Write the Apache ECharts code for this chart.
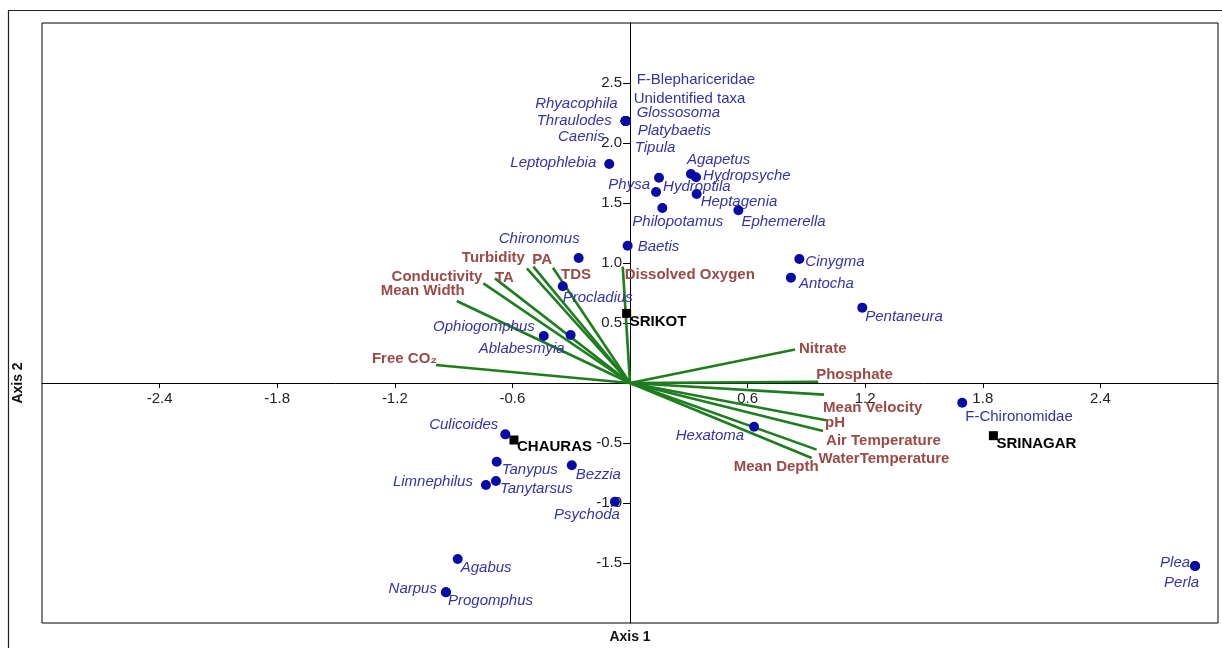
<!DOCTYPE html>
<html>
<head>
<meta charset="utf-8">
<script src="https://cdn.jsdelivr.net/npm/echarts@6/dist/echarts.min.js"></script>
<style>
html,body{margin:0;padding:0;background:#fff;}
#chart{width:1222px;height:648px;}
</style>
</head>
<body>
<div id="chart"></div>
<script>
// ---------- DATA ----------
const speciesNames = ['F-Blephariceridae','Unidentified taxa','Glossosoma','Platybaetis','Tipula','Rhyacophila','Thraulodes','Caenis',
  'Leptophlebia','Physa','Hydroptila','Agapetus','Hydropsyche','Heptagenia','Philopotamus','Ephemerella','Baetis','Cinygma','Antocha',
  'Pentaneura','Chironomus','Procladius','Ophiogomphus','Ablabesmyia','Culicoides','Tanypus','Bezzia','Limnephilus','Tanytarsus',
  'Psychoda','Hexatoma','F-Chironomidae','Agabus','Narpus','Progomphus','Plea','Perla'];
const speciesX = [-0.022,-0.022,-0.022,-0.022,-0.022,-0.022,-0.022,-0.022,
  -0.106,0.148,0.133,0.311,0.337,0.340,0.165,0.553,-0.012,0.864,0.821,
  1.185,-0.262,-0.343,-0.440,-0.303,-0.636,-0.680,-0.297,-0.735,-0.684,
  -0.077,0.633,1.695,-0.879,-0.939,-0.939,2.883,2.883];
const speciesY = [2.183,2.183,2.183,2.183,2.183,2.183,2.183,2.183,
  1.825,1.711,1.592,1.742,1.714,1.575,1.458,1.439,1.144,1.033,0.878,
  0.628,1.042,0.806,0.392,0.400,-0.428,-0.656,-0.686,-0.850,-0.817,
  -0.989,-0.364,-0.164,-1.467,-1.744,-1.744,-1.525,-1.525];

const siteNames = ['SRIKOT','CHAURAS','SRINAGAR'];
const siteX = [-0.017,-0.592,1.854];
const siteY = [0.580,-0.475,-0.439];

const envNames = ['Free CO\u2082','Mean Width','Conductivity','TA','Turbidity','PA','TDS','Dissolved Oxygen',
  'Nitrate','Phosphate','Mean Velocity','pH','Air Temperature','WaterTemperature','Mean Depth'];
const envX = [-0.990,-0.884,-0.748,-0.689,-0.526,-0.493,-0.393,-0.037,0.842,0.960,0.990,1.000,0.985,0.952,0.927];
const envY = [0.150,0.683,0.830,0.872,0.956,0.970,0.960,0.970,0.280,0.010,-0.097,-0.310,-0.400,-0.555,-0.625];

const xTickLabels = ['-2.4','-1.8','-1.2','-0.6','0.6','1.2','1.8','2.4'];
const yTickLabels = ['-1.5','-1.0','-0.5','0.5','1.0','1.5','2.0','2.5'];

// ---------- LABEL STYLE (align, dx, dy in px) ----------
const speciesLabelPlace = {
  'F-Blephariceridae':['left',11,-41],'Unidentified taxa':['left',8,-22],'Glossosoma':['left',11,-8],
  'Platybaetis':['left',12,10],'Tipula':['left',9,27],'Rhyacophila':['right',-8,-17],'Thraulodes':['right',-14,0],
  'Caenis':['right',-21,16],'Leptophlebia':['right',-13,-1],'Physa':['right',-9,7],'Hydroptila':['left',7,-5],
  'Agapetus':['left',-4,-14],'Hydropsyche':['left',7,-1],'Heptagenia':['left',4,8],'Philopotamus':['left',-30,14],
  'Ephemerella':['left',3,12],'Baetis':['left',10,1],'Cinygma':['left',6,3],'Antocha':['left',8,6],
  'Pentaneura':['left',3,9],'Chironomus':['right',1,-19],'Procladius':['left',0,12],'Ophiogomphus':['right',-9,-9],
  'Ablabesmyia':['right',-6,14],'Culicoides':['right',-7,-10],'Tanypus':['left',5,8],'Bezzia':['left',4,10],
  'Limnephilus':['right',-13,-3],'Tanytarsus':['left',4,8],'Psychoda':['right',5,13],'Hexatoma':['right',-10,9],
  'F-Chironomidae':['left',3,14],'Agabus':['left',3,9],'Narpus':['right',-9,-3],'Progomphus':['left',2,9],
  'Plea':['right',-5,-3],'Perla':['right',4,17]
};
const uprightSpecies = ['F-Blephariceridae','Unidentified taxa','F-Chironomidae'];
const siteLabelPlace = {'SRIKOT':['left',3,8],'CHAURAS':['left',3,7],'SRINAGAR':['left',3,8]};
const envLabelPlace = {
  'Free CO\u2082':['right',1,-6],'Mean Width':['right',8,-10],'Conductivity':['right',-1,-7],'TA':['left',0,-1],
  'Turbidity':['right',-2,-10],'PA':['left',-1,-7],'TDS':['left',8,7],'Dissolved Oxygen':['left',2,8],
  'Nitrate':['left',4,-1],'Phosphate':['left',-2,-7],'Mean Velocity':['left',-1,13],'pH':['left',-1,3],
  'Air Temperature':['left',3,10],'WaterTemperature':['left',2,9],'Mean Depth':['right',7,9]
};

const FONT = '"Liberation Sans", Arial, sans-serif';
const SPECIES_TEXT = '#3434a8';
const DOT = '#0a0aa6';
const ENV_TEXT = '#9a4b47';
const ENV_LINE = '#1e7d1e';

const speciesData = speciesNames.map((n, i) => [speciesX[i], speciesY[i], i]);
const siteData = siteNames.map((n, i) => [siteX[i], siteY[i], i]);
const envData = envNames.map((n, i) => [envX[i], envY[i], i]);
const xTickData = xTickLabels.map(t => [Number(t), 0, t]);
const yTickData = yTickLabels.map(t => [0, Number(t), t]);

const chart = echarts.init(document.getElementById('chart'), null, { renderer: 'canvas' });
chart.setOption({
  animation: false,
  backgroundColor: '#fff',
  grid: { left: 42, right: 4, top: 23, bottom: 25, show: true, borderColor: '#000', borderWidth: 1, backgroundColor: 'transparent' },
  xAxis: {
    type: 'value', min: -3, max: 3, interval: 0.6,
    axisLine: { onZero: true, lineStyle: { color: '#000', width: 1 } },
    axisTick: { show: true, length: 5, lineStyle: { color: '#000' }, customValues: xTickLabels.map(Number) },
    axisLabel: { show: false },
    splitLine: { show: false }
  },
  yAxis: {
    type: 'value', min: -2, max: 3, interval: 0.5,
    axisLine: { onZero: true, lineStyle: { color: '#000', width: 1 } },
    axisTick: { show: true, length: 7, lineStyle: { color: '#000' }, customValues: yTickLabels.map(Number) },
    axisLabel: { show: false },
    splitLine: { show: false }
  },
  graphic: [
    { type: 'rect', silent: true, shape: { x: 8.5, y: 10.5, width: 1400, height: 800 },
      style: { fill: null, stroke: '#222', lineWidth: 1.2 } },
    { type: 'text', x: 630, y: 637, style: { text: 'Axis 1', font: 'bold 14px ' + FONT, fill: '#111', align: 'center', verticalAlign: 'middle' } },
    { type: 'text', x: 18, y: 383, rotation: Math.PI / 2, style: { text: 'Axis 2', font: 'bold 14px ' + FONT, fill: '#111', align: 'center', verticalAlign: 'middle' } }
  ],
  series: [
    { // x tick labels
      type: 'custom', z: 2, coordinateSystem: 'cartesian2d', data: xTickData, silent: true,
      renderItem: (params, api) => {
        const p = api.coord([api.value(0), 0]);
        return { type: 'text', x: p[0], y: p[1] + 8,
          style: { text: xTickLabels[params.dataIndex], fill: '#222', fontFamily: FONT, fontSize: 15, align: 'center', verticalAlign: 'top' } };
      }
    },
    { // y tick labels
      type: 'custom', z: 2, coordinateSystem: 'cartesian2d', data: yTickData, silent: true,
      renderItem: (params, api) => {
        const p = api.coord([0, api.value(1)]);
        return { type: 'text', x: p[0] - 8, y: p[1],
          style: { text: yTickLabels[params.dataIndex], fill: '#222', fontFamily: FONT, fontSize: 15, align: 'right', verticalAlign: 'middle' } };
      }
    },
    { // environmental vectors
      type: 'custom', z: 3, coordinateSystem: 'cartesian2d', data: envData, silent: true,
      renderItem: (params, api) => {
        const i = params.dataIndex;
        const name = envNames[i];
        const p = envLabelPlace[name];
        const o = api.coord([0, 0]);
        const e = api.coord([api.value(0), api.value(1)]);
        return { type: 'group', children: [
          { type: 'line', shape: { x1: o[0], y1: o[1], x2: e[0], y2: e[1] }, style: { stroke: ENV_LINE, lineWidth: 2.6 } },
          { type: 'text', x: e[0] + p[1], y: e[1] + p[2],
            style: { text: name, fill: ENV_TEXT, fontFamily: FONT, fontWeight: 'bold', fontSize: 15, align: p[0], verticalAlign: 'middle' } }
        ] };
      }
    },
    { // species
      type: 'custom', z: 5, coordinateSystem: 'cartesian2d', data: speciesData, silent: true,
      renderItem: (params, api) => {
        const i = params.dataIndex;
        const name = speciesNames[i];
        const p = speciesLabelPlace[name];
        const c = api.coord([api.value(0), api.value(1)]);
        return { type: 'group', children: [
          { type: 'circle', shape: { cx: c[0], cy: c[1], r: 5 }, style: { fill: DOT } },
          { type: 'text', x: c[0] + p[1], y: c[1] + p[2],
            style: { text: name, fill: SPECIES_TEXT, fontFamily: FONT, fontSize: 15,
              fontStyle: uprightSpecies.includes(name) ? 'normal' : 'italic', align: p[0], verticalAlign: 'middle' } }
        ] };
      }
    },
    { // sites
      type: 'custom', z: 6, coordinateSystem: 'cartesian2d', data: siteData, silent: true,
      renderItem: (params, api) => {
        const i = params.dataIndex;
        const name = siteNames[i];
        const p = siteLabelPlace[name];
        const c = api.coord([api.value(0), api.value(1)]);
        return { type: 'group', children: [
          { type: 'rect', shape: { x: c[0] - 4.5, y: c[1] - 4.5, width: 9, height: 9 }, style: { fill: '#000' } },
          { type: 'text', x: c[0] + p[1], y: c[1] + p[2],
            style: { text: name, fill: '#000', fontFamily: FONT, fontWeight: 'bold', fontSize: 15, align: p[0], verticalAlign: 'middle' } }
        ] };
      }
    }
  ]
});
</script>
</body>
</html>
